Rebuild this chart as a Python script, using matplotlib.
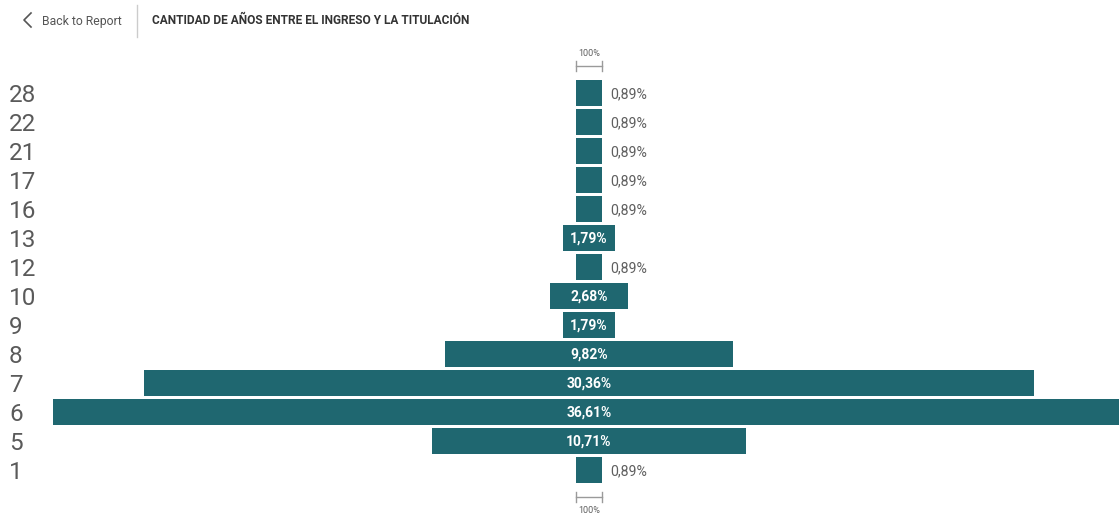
import matplotlib
matplotlib.use("Agg")
import matplotlib.pyplot as plt
from matplotlib.lines import Line2D

# Years between enrolment and graduation, share of graduates (%)
categories = ["28", "22", "21", "17", "16", "13", "12", "10", "9", "8", "7", "6", "5", "1"]
values = [0.89, 0.89, 0.89, 0.89, 0.89, 1.79, 0.89, 2.68, 1.79, 9.82, 30.36, 36.61, 10.71, 0.89]

title = "CANTIDAD DE AÑOS ENTRE EL INGRESO Y LA TITULACIÓN"
back_label = "Back to Report"

BAR = "#1F6770"
GREY = "#5f5f5f"

W, H = 1119, 515
fig = plt.figure(figsize=(W / 100, H / 100), dpi=100)
fig.patch.set_facecolor("white")

# Funnel axes: x in percent centred at 0, y in row index
ax = fig.add_axes([0, 0, 1, 1])
px_per_pct = 29.3
cx = 589
ax.set_xlim(-cx / px_per_pct, (W - cx) / px_per_pct)
row0, pitch = 93, 29.0
ax.set_ylim((H - row0) / pitch, -row0 / pitch)
ax.axis("off")

ys = list(range(len(values)))
ax.barh(ys, values, left=[-v / 2 for v in values], height=0.9, color=BAR,
        edgecolor="none")

for y, v, cat in zip(ys, values, categories):
    label = f"{v:.2f}%".replace(".", ",")
    if v >= 1.5:
        ax.text(0, y + 0.03, label, ha="center", va="center", color="white",
                fontsize=10, fontweight="bold", family="Roboto")
    else:
        ax.text(v / 2 + 8 / px_per_pct, y + 0.03, label, ha="left", va="center",
                color=GREY, fontsize=10.2, family="Roboto")
    ax.text(-cx / px_per_pct + 9 / px_per_pct, y + 0.1, cat, ha="left",
            va="center", color="#5a5a5a", fontsize=17.5, family="Roboto")

# 100% reference brackets above and below the funnel
ref = values[0]
for ybr, ytxt in ((-0.93, -1.35), (13.93, 14.38)):
    ax.plot([-ref / 2, ref / 2], [ybr, ybr], color="#9a9a9a", lw=1)
    for xe in (-ref / 2, ref / 2):
        ax.plot([xe, xe], [ybr - 0.17, ybr + 0.17], color="#9a9a9a", lw=1)
    ax.text(0, ytxt, "100%", ha="center", va="center", color=GREY,
            fontsize=6.5, family="Roboto")

# Header: back link, separator and title
fig.text(42 / W, 1 - 21 / H, back_label, ha="left", va="center",
         color="#555555", fontsize=8.8, family="Roboto")
fig.add_artist(Line2D([31 / W, 24 / W, 31 / W],
                      [1 - 13 / H, 1 - 20 / H, 1 - 27 / H],
                      color="#555555", lw=1.2))
fig.add_artist(Line2D([137 / W, 137 / W], [1 - 5 / H, 1 - 37 / H],
                      color="#cccccc", lw=1))
fig.text(152 / W, 1 - 20 / H, title, ha="left", va="center",
         color="#333333", fontsize=8.6, fontweight="bold", family="Roboto")

fig.savefig("out.png", dpi=100, facecolor="white")
